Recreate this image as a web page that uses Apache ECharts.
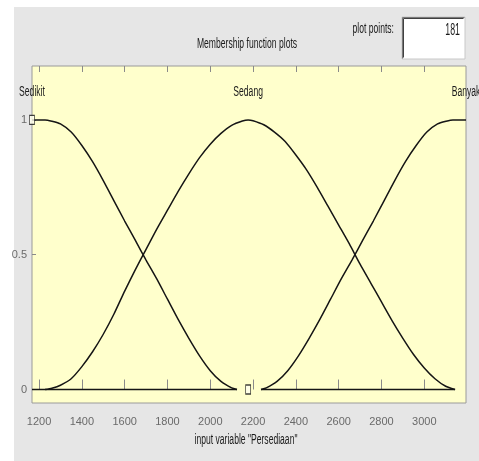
<!DOCTYPE html>
<html>
<head>
<meta charset="utf-8">
<script src="https://cdn.jsdelivr.net/npm/echarts@6/dist/echarts.min.js"></script>
<style>
html,body{margin:0;padding:0;background:#ffffff;}
#chart{width:479px;height:461px;}
</style>
</head>
<body>
<div id="chart"></div>
<script>
// ---- data ----
const xRange = [1167, 3195];
const yRange = [-0.05, 1.2];
const xTickValues = [1200, 1400, 1600, 1800, 2000, 2200, 2400, 2600, 2800, 3000];
const yTickValues = [0, 0.5, 1];
const mfNames = ['Sedikit', 'Sedang', 'Banyak'];
const mfLabelX = [1167, 2177, 3195];
const plotPoints = '181';
const titleText = 'Membership function plots';
const xAxisTitle = 'input variable "Persediaan"';

const sedikitX = [1167, 1228, 1260, 1300, 1350, 1400, 1450, 1500, 1550, 1600, 1650, 1700, 1750, 1800, 1850, 1900, 1950, 2000, 2050, 2100, 2125, 2180, 2237, 3144];
const sedikitY = [1, 1, 0.995, 0.985, 0.955, 0.905, 0.845, 0.775, 0.70, 0.625, 0.553, 0.48, 0.41, 0.335, 0.26, 0.19, 0.125, 0.07, 0.03, 0.006, 0, null, 0, 0];

const sedangX = [1228, 1260, 1300, 1350, 1400, 1450, 1500, 1550, 1600, 1650, 1700, 1750, 1800, 1850, 1900, 1950, 2000, 2050, 2100, 2150, 2177, 2200, 2250, 2300, 2350, 2400, 2450, 2500, 2550, 2600, 2650, 2700, 2750, 2800, 2850, 2900, 2950, 3000, 3050, 3100, 3144];
const sedangY = [0, 0.005, 0.016, 0.04, 0.085, 0.14, 0.205, 0.28, 0.365, 0.445, 0.52, 0.595, 0.665, 0.735, 0.80, 0.86, 0.91, 0.95, 0.98, 0.996, 1, 0.997, 0.982, 0.955, 0.92, 0.87, 0.815, 0.75, 0.68, 0.61, 0.54, 0.465, 0.395, 0.325, 0.255, 0.19, 0.13, 0.08, 0.04, 0.012, 0];

const banyakX = [1167, 2125, 2180, 2237, 2262, 2312, 2362, 2412, 2462, 2512, 2562, 2612, 2662, 2712, 2762, 2812, 2862, 2912, 2962, 3012, 3062, 3102, 3134, 3195];
const banyakY = [0, 0, null, 0, 0.006, 0.03, 0.07, 0.125, 0.19, 0.26, 0.335, 0.41, 0.48, 0.553, 0.625, 0.70, 0.775, 0.845, 0.905, 0.955, 0.985, 0.995, 1, 1];

const handleX = [1167, 2177];
const handleY = [1, 0];

// ---- build chart ----
const FONT = '"Liberation Sans", Arial, sans-serif';
const TFONT = '13px "Liberation Sans", Arial, sans-serif';
const SQUEEZE = 0.66;
const pairs = (xs, ys) => xs.map((x, i) => [x, ys[i] === null ? '-' : ys[i]]);
const nameLevel = 1.103;

const chart = echarts.init(document.getElementById('chart'), null, {renderer: 'canvas'});

const lineStyleCommon = {color: '#151515', width: 1.5};
const plain = v => String(v);

const option = {
  animation: false,
  backgroundColor: '#ffffff',
  grid: {
    left: 32, right: 13, top: 66, bottom: 58,
    show: true, backgroundColor: '#ffffcc', borderColor: '#9a9a9a', borderWidth: 1
  },
  xAxis: [{
    type: 'value', min: xRange[0], max: xRange[1], position: 'bottom',
    axisLine: {show: false},
    splitLine: {show: false},
    axisTick: {show: true, inside: true, length: 10, customValues: xTickValues, lineStyle: {color: '#8a8a8a'}},
    axisLabel: {customValues: xTickValues, formatter: plain, margin: 13, color: '#6a6a6a', fontFamily: FONT, fontSize: 11}
  }, {
    type: 'value', min: xRange[0], max: xRange[1], position: 'top',
    axisLine: {show: false}, splitLine: {show: false},
    axisTick: {show: true, inside: true, length: 6, customValues: xTickValues, lineStyle: {color: '#8a8a8a'}},
    axisLabel: {show: false}
  }],
  yAxis: [{
    type: 'value', min: yRange[0], max: yRange[1],
    axisLine: {show: false}, splitLine: {show: false},
    axisTick: {show: true, inside: true, length: 4, customValues: yTickValues, lineStyle: {color: '#8a8a8a'}},
    axisLabel: {customValues: yTickValues, formatter: plain, margin: 5, color: '#6a6a6a', fontFamily: FONT, fontSize: 11}
  }],
  series: [
    {name: mfNames[0], type: 'line', data: pairs(sedikitX, sedikitY), showSymbol: false, connectNulls: false, smooth: 0.2, lineStyle: lineStyleCommon, z: 3},
    {name: mfNames[1], type: 'line', data: pairs(sedangX, sedangY), showSymbol: false, connectNulls: false, smooth: 0.2, lineStyle: lineStyleCommon, z: 3},
    {name: mfNames[2], type: 'line', data: pairs(banyakX, banyakY), showSymbol: false, connectNulls: false, smooth: 0.2, lineStyle: lineStyleCommon, z: 3},
    {
      name: 'handles', type: 'scatter', silent: true, clip: false,
      data: handleX.map((x, i) => [x, handleY[i]]),
      symbol: 'rect', symbolSize: [5, 9],
      itemStyle: {color: '#ffffee', borderColor: '#111', borderWidth: 1},
      z: 5
    }
  ]
};
chart.setOption(option);

// squeezed (narrow) texts, positioned from the axes
const sq = (text, x, y, align, font, sx, sy) => ({
  type: 'text', x: x, y: y, scaleX: sx || SQUEEZE, scaleY: sy || 1.08, z: 12,
  style: {text: text, x: 0, y: 0, align: align, verticalAlign: 'middle', fill: '#1a1a1a', font: font || TFONT}
});

const nameTexts = mfLabelX.map((x, i) => {
  const p = chart.convertToPixel({xAxisIndex: 0, yAxisIndex: 0}, [x, nameLevel]);
  return sq(mfNames[i], p[0], p[1], 'center');
});
const gridLeft = chart.convertToPixel({xAxisIndex: 0}, xRange[0]);
const gridRight = chart.convertToPixel({xAxisIndex: 0}, xRange[1]);
const gridMid = (gridLeft + gridRight) / 2;

chart.setOption({
  graphic: [
    {type: 'rect', z: -10, shape: {x: 14, y: 7, width: 465, height: 454}, style: {fill: '#e6e6e6'}},
    sq(titleText, gridMid - 2, 44, 'center'),
    sq(xAxisTitle, gridMid - 3, 440, 'center'),
    sq('plot points:', 394, 29, 'right'),
    {type: 'rect', z: 10, shape: {x: 402, y: 17, width: 63, height: 42}, style: {fill: '#ffffff', stroke: '#c8c8c8', lineWidth: 1}},
    {type: 'polyline', z: 11, shape: {points: [[402.5, 58.5], [402.5, 17.5], [464.5, 17.5]]}, style: {stroke: '#7a7a7a', lineWidth: 1, fill: null}},
    {type: 'polyline', z: 11, shape: {points: [[403.5, 57.5], [403.5, 18.5], [463.5, 18.5]]}, style: {stroke: '#404040', lineWidth: 1, fill: null}},
    sq(plotPoints, 460, 31, 'right', '16px "Liberation Sans", Arial, sans-serif', 0.55, 1.0)
  ].concat(nameTexts)
});
</script>
</body>
</html>
